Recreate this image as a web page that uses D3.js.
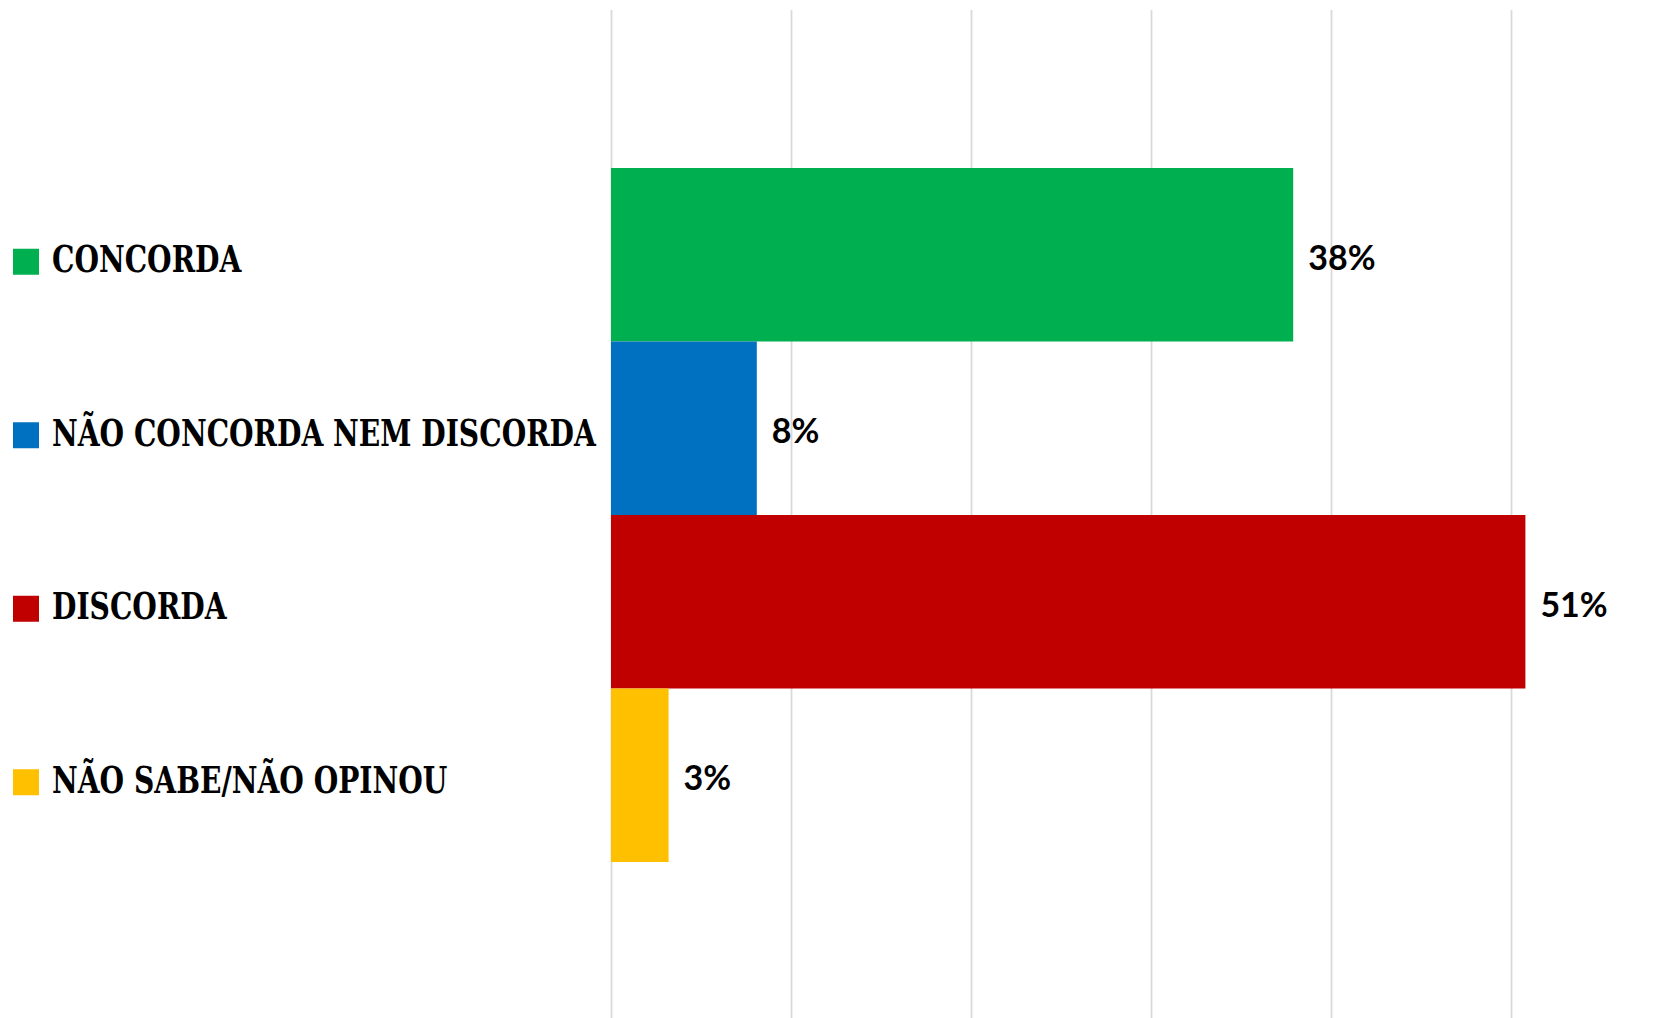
<!DOCTYPE html>
<html><head><meta charset="utf-8">
<script src="https://cdn.jsdelivr.net/npm/d3@7"></script>
<style>body{margin:0;background:#fff}svg{display:block}</style>
</head><body>
<svg id="chart" width="1677" height="1018"></svg>
<script>
const categories = ["CONCORDA", "NÃO CONCORDA NEM DISCORDA", "DISCORDA", "NÃO SABE/NÃO OPINOU"];
const values = [37.9, 8.1, 50.8, 3.2];
const valueLabels = ["38%", "8%", "51%", "3%"];
const colors = ["#00B050", "#0070C0", "#C00000", "#FFC000"];
const gridTicks = [0, 10, 20, 30, 40, 50, 60];

const svg = d3.select("#chart");
const x = d3.scaleLinear().domain([0, 60]).range([611, 1691]);
const y = d3.scaleBand().domain(categories).range([168, 862]).padding(0);

// gridlines via axis
const grid = svg.append("g").attr("transform", "translate(0,1018)")
  .call(d3.axisBottom(x).tickValues(gridTicks).tickSize(-1008).tickFormat(""));
grid.select(".domain").remove();
grid.selectAll(".tick line").attr("stroke", "#d9d9d9").attr("stroke-width", 1.8);

// bars
svg.append("g").selectAll("rect").data(categories).join("rect")
  .attr("x", x(0))
  .attr("y", d => y(d))
  .attr("width", (d, i) => x(values[i]) - x(0))
  .attr("height", y.bandwidth())
  .attr("fill", (d, i) => colors[i]);

// value labels
svg.append("g").selectAll("text").data(categories).join("text")
  .attr("x", (d, i) => x(values[i]) + 15)
  .attr("y", d => y(d) + y.bandwidth() / 2 + 15)
  .attr("font-family", "Lato, 'Open Sans', sans-serif")
  .attr("font-weight", "bold")
  .attr("font-size", 34)
  .attr("fill", "#000")
  .text((d, i) => valueLabels[i]);

// legend-like category labels
const leg = svg.append("g");
leg.selectAll("rect").data(categories).join("rect")
  .attr("x", 13)
  .attr("y", d => y(d) + y.bandwidth() / 2 - 6)
  .attr("width", 26).attr("height", 26)
  .attr("fill", (d, i) => colors[i]);

const labels = leg.selectAll("text").data(categories).join("text")
  .attr("font-family", "'DejaVu Serif', serif")
  .attr("font-weight", "bold")
  .attr("font-size", 37)
  .attr("fill", "#000")
  .text(d => d);

let maxLen = 0;
labels.each(function () { maxLen = Math.max(maxLen, this.getComputedTextLength()); });
const sx = 544 / maxLen;
labels.attr("transform", d => `translate(52,${y(d) + y.bandwidth() / 2 + 17.5}) scale(${sx},1)`);
</script>
</body></html>
